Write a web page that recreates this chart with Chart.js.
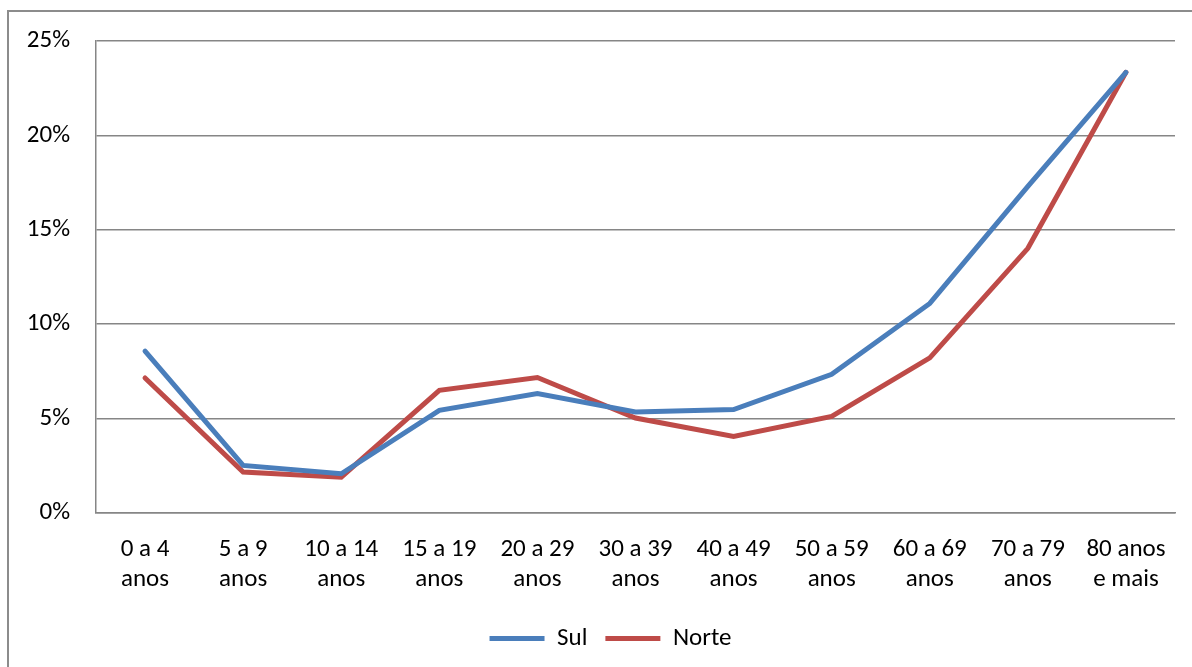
<!DOCTYPE html>
<html>
<head>
<meta charset="utf-8">
<script src="https://cdn.jsdelivr.net/npm/chart.js@4/dist/chart.umd.min.js"></script>
<style>
  html, body { margin: 0; padding: 0; background: #fff; overflow: hidden; }
  #frame {
    position: absolute; left: 7px; top: 10px; width: 1210px; height: 700px;
    border: 2px solid #8c8c8c; box-sizing: border-box;
  }
  #c { position: absolute; left: 0; top: 0; }
</style>
</head>
<body>
<div id="frame"></div>
<canvas id="c" width="1192" height="667"></canvas>
<script>
// Faixas etárias (duas linhas por rótulo)
const categories = [
  ['0 a 4', 'anos'], ['5 a 9', 'anos'], ['10 a 14', 'anos'], ['15 a 19', 'anos'],
  ['20 a 29', 'anos'], ['30 a 39', 'anos'], ['40 a 49', 'anos'], ['50 a 59', 'anos'],
  ['60 a 69', 'anos'], ['70 a 79', 'anos'], ['80 anos', 'e mais']
];
// Percentuais por região
const sul   = [8.57, 2.52, 2.08, 5.44, 6.33, 5.35, 5.48, 7.35, 11.1, 17.3, 23.34];
const norte = [7.15, 2.17, 1.90, 6.50, 7.18, 5.03, 4.06, 5.12, 8.22, 14.02, 23.34];
const yTicks = [0, 5, 10, 15, 20, 25];

const FONT = '"Carlito", "Lato", "Open Sans", sans-serif';
const GRID = '#868686';

// Desloca a legenda um pouco para a direita, centrada sob a área do gráfico
const legendShift = {
  id: 'legendShift',
  afterLayout(chart) {
    if (chart.legend) { chart.legend.left += 23; chart.legend.right += 23; }
  }
};

new Chart(document.getElementById('c'), {
  type: 'line',
  data: {
    labels: categories,
    datasets: [
      { label: 'Sul', data: sul, borderColor: '#4a7ebb', backgroundColor: '#4a7ebb',
        borderWidth: 5, pointRadius: 0, tension: 0, borderCapStyle: 'round', borderJoinStyle: 'miter' },
      { label: 'Norte', data: norte, borderColor: '#be4b48', backgroundColor: '#be4b48',
        borderWidth: 5, pointRadius: 0, tension: 0, borderCapStyle: 'round', borderJoinStyle: 'miter' }
    ]
  },
  plugins: [legendShift],
  options: {
    responsive: false,
    animation: false,
    layout: { padding: { top: 41, right: 17, left: 0, bottom: 6 } },
    plugins: {
      tooltip: { enabled: false },
      legend: {
        position: 'bottom',
        labels: {
          usePointStyle: true,
          pointStyle: 'line',
          pointStyleWidth: 55,
          boxHeight: 4,
          padding: 18,
          color: '#000',
          font: { family: FONT, size: 25 }
        }
      }
    },
    scales: {
      x: {
        offset: true,
        grid: { display: false, drawTicks: false },
        border: { display: true, color: GRID, width: 1.5 },
        ticks: { color: '#000', font: { family: FONT, size: 25, lineHeight: 1.2 }, padding: 22,
                 maxRotation: 0, autoSkip: false },
        afterFit: (s) => { s.height = 95; }
      },
      y: {
        min: 0, max: 25,
        afterBuildTicks: (s) => { s.ticks = yTicks.map(v => ({ value: v })); },
        grid: { color: GRID, lineWidth: 1.5, drawTicks: false },
        border: { display: true, color: GRID, width: 1.5 },
        ticks: { color: '#000', font: { family: FONT, size: 25 }, padding: 26,
                 callback: (v) => v + '%' },
        afterFit: (s) => { s.width = 96; }
      }
    }
  }
});
</script>
</body>
</html>
